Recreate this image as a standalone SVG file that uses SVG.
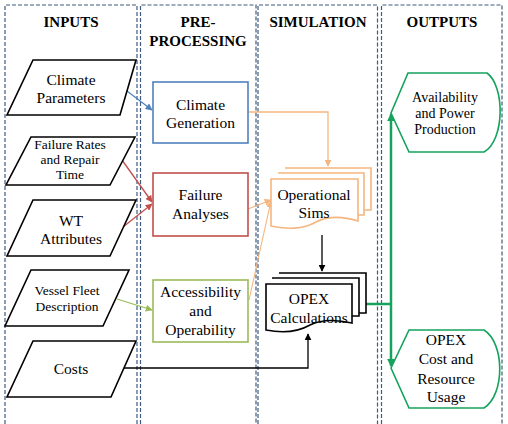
<svg xmlns="http://www.w3.org/2000/svg" width="508" height="424" viewBox="0 0 508 424">
<style>
.col{fill:none;stroke:#3f5a7e;stroke-width:1.2;stroke-dasharray:4 2}
text{text-anchor:middle;fill:#000;stroke:none}
.hd{font-weight:bold;font-size:15px}
.t{font-size:15.5px}
.s{font-size:13.5px}
.m{font-size:14px}
.par{fill:#fff;stroke:#000;stroke-width:1.6}
.doc{fill:#fff;stroke-width:1.6}
</style>
<defs>
<marker id="ab" viewBox="0 0 10 10" refX="9" refY="5" markerWidth="7" markerHeight="7" orient="auto" markerUnits="userSpaceOnUse"><path d="M0,0 L10,5 L0,10 Z" fill="#4f81bd"/></marker>
<marker id="ar" viewBox="0 0 10 10" refX="9" refY="5" markerWidth="7" markerHeight="7" orient="auto" markerUnits="userSpaceOnUse"><path d="M0,0 L10,5 L0,10 Z" fill="#c0504d"/></marker>
<marker id="ag" viewBox="0 0 10 10" refX="9" refY="5" markerWidth="7" markerHeight="7" orient="auto" markerUnits="userSpaceOnUse"><path d="M0,0 L10,5 L0,10 Z" fill="#9bbb59"/></marker>
<marker id="ao" viewBox="0 0 10 10" refX="9" refY="5" markerWidth="7" markerHeight="7" orient="auto" markerUnits="userSpaceOnUse"><path d="M0,0 L10,5 L0,10 Z" fill="#f5b57f"/></marker>
<marker id="ak" viewBox="0 0 10 10" refX="9" refY="5" markerWidth="7" markerHeight="7" orient="auto" markerUnits="userSpaceOnUse"><path d="M0,0 L10,5 L0,10 Z" fill="#000"/></marker>
<marker id="aG" viewBox="0 0 10 10" refX="9" refY="5" markerWidth="8" markerHeight="8" orient="auto" markerUnits="userSpaceOnUse"><path d="M0,0 L10,5 L0,10 Z" fill="#14a35c"/></marker>
</defs>
<g font-family="Liberation Serif, DejaVu Serif, serif">
<g id="columns">
<path class="col" d="M5,430 V5 H137 V430"/>
<path class="col" d="M140.5,430 V5 H256 V430"/>
<path class="col" d="M258,430 V5 H377.5 V430"/>
<path class="col" d="M381.5,430 V5 H502 V430"/>
<text class="hd" x="71" y="27">INPUTS</text>
<text class="hd" x="198" y="27">PRE-</text>
<text class="hd" x="198" y="46">PROCESSING</text>
<text class="hd" x="318" y="27">SIMULATION</text>
<text class="hd" x="442" y="27">OUTPUTS</text>
</g>

<g id="connectors" fill="none">
<line x1="123" y1="88" x2="152" y2="110" stroke="#4f81bd" stroke-width="1.3" marker-end="url(#ab)"/>
<line x1="122" y1="160" x2="152" y2="202" stroke="#c0504d" stroke-width="1.3" marker-end="url(#ar)"/>
<line x1="123" y1="227" x2="152" y2="204" stroke="#c0504d" stroke-width="1.3" marker-end="url(#ar)"/>
<line x1="117" y1="299" x2="152" y2="310" stroke="#9bbb59" stroke-width="1.3" marker-end="url(#ag)"/>
<polyline points="248,112 328,112 328,166" stroke="#f5b57f" stroke-width="1.3" marker-end="url(#ao)"/>
<line x1="248" y1="209" x2="271" y2="200" stroke="#f5b57f" stroke-width="1.3" marker-end="url(#ao)"/>
<line x1="249" y1="300" x2="271" y2="201" stroke="#f5b57f" stroke-width="1.1" marker-end="url(#ao)"/>
<line x1="322" y1="235" x2="322" y2="271" stroke="#000" stroke-width="1.3" marker-end="url(#ak)"/>
<polyline points="123,368 308,368 308,334" stroke="#000" stroke-width="1.3" marker-end="url(#ak)"/>
<line x1="366" y1="304" x2="391" y2="304" stroke="#14a35c" stroke-width="2.5"/>
<line x1="391" y1="304" x2="391" y2="114" stroke="#14a35c" stroke-width="2.5" marker-end="url(#aG)"/>
<line x1="391" y1="304" x2="391" y2="366" stroke="#14a35c" stroke-width="2.5" marker-end="url(#aG)"/>
</g>

<g id="climate-parameters">
<polygon class="par" points="33,60 136,60 120,115 7,115"/>
<text class="t" x="71" y="85">Climate</text>
<text class="t" x="71" y="103">Parameters</text>
</g>
<g id="failure-rates">
<polygon class="par" points="31,137 135,137 110,185 6,185"/>
<text class="s" x="70" y="149">Failure Rates</text>
<text class="s" x="70" y="164">and Repair</text>
<text class="s" x="70" y="179">Time</text>
</g>
<g id="wt-attributes">
<polygon class="par" points="33,200 136,200 110,256 7,256"/>
<text class="t" x="71" y="226">WT</text>
<text class="t" x="71" y="244">Attributes</text>
</g>
<g id="vessel-fleet">
<polygon class="par" points="31,270 129,270 103,326 5,326"/>
<text class="s" x="67" y="295">Vessel Fleet</text>
<text class="s" x="67" y="311">Description</text>
</g>
<g id="costs">
<polygon class="par" points="33,341 136,341 111,397 7,397"/>
<text class="t" x="71" y="374">Costs</text>
</g>

<g id="climate-generation">
<rect x="153" y="82" width="95" height="61" fill="#fff" stroke="#4f81bd" stroke-width="1.6"/>
<text class="t" x="200.5" y="110">Climate</text>
<text class="t" x="200.5" y="128">Generation</text>
</g>
<g id="failure-analyses">
<rect x="153" y="173" width="95" height="63" fill="#fff" stroke="#c0504d" stroke-width="1.6"/>
<text class="t" x="200.5" y="200">Failure</text>
<text class="t" x="200.5" y="219">Analyses</text>
</g>
<g id="accessibility">
<rect x="153" y="280" width="95" height="62" fill="#fff" stroke="#9bbb59" stroke-width="1.6"/>
<text class="t" x="200.5" y="297">Accessibility</text>
<text class="t" x="200.5" y="316">and</text>
<text class="t" x="200.5" y="335">Operability</text>
</g>

<g id="operational-sims" stroke="#f5b57f">
<path class="doc" d="M285,168 H371 V210 H364"/>
<path class="doc" d="M278,173 H364 V215 H358"/>
<path class="doc" d="M271,179 H358 V221 C345,217 330,215 316,222 C302,230 287,229 271,226 Z"/>
<text class="t" x="314" y="200">Operational</text>
<text class="t" x="314" y="218">Sims</text>
</g>

<g id="opex-calculations" stroke="#000">
<path class="doc" d="M279,273 H366 V313 H359"/>
<path class="doc" d="M272,278 H359 V316 H352"/>
<path class="doc" d="M266,284 H352 V323 C339,320 324,318 310,325 C296,333 281,333 266,330 Z"/>
<text class="t" x="309" y="304">OPEX</text>
<text class="t" x="309" y="323">Calculations</text>
</g>

<g id="availability">
<path d="M408,73 H487 C505,86 505,140 484,152 H409 L391,113 Z" fill="#fff" stroke="#14a35c" stroke-width="1.6"/>
<text class="m" x="445" y="102">Availability</text>
<text class="m" x="445" y="118">and Power</text>
<text class="m" x="445" y="134">Production</text>
</g>
<g id="opex-cost">
<path d="M409,330 H484 C505,343 505,395 484,408 H409 L391,368 Z" fill="#fff" stroke="#14a35c" stroke-width="1.6"/>
<text class="t" x="446" y="345">OPEX</text>
<text class="t" x="446" y="364">Cost and</text>
<text class="t" x="446" y="384">Resource</text>
<text class="t" x="446" y="402">Usage</text>
</g>
</g>
</svg>
